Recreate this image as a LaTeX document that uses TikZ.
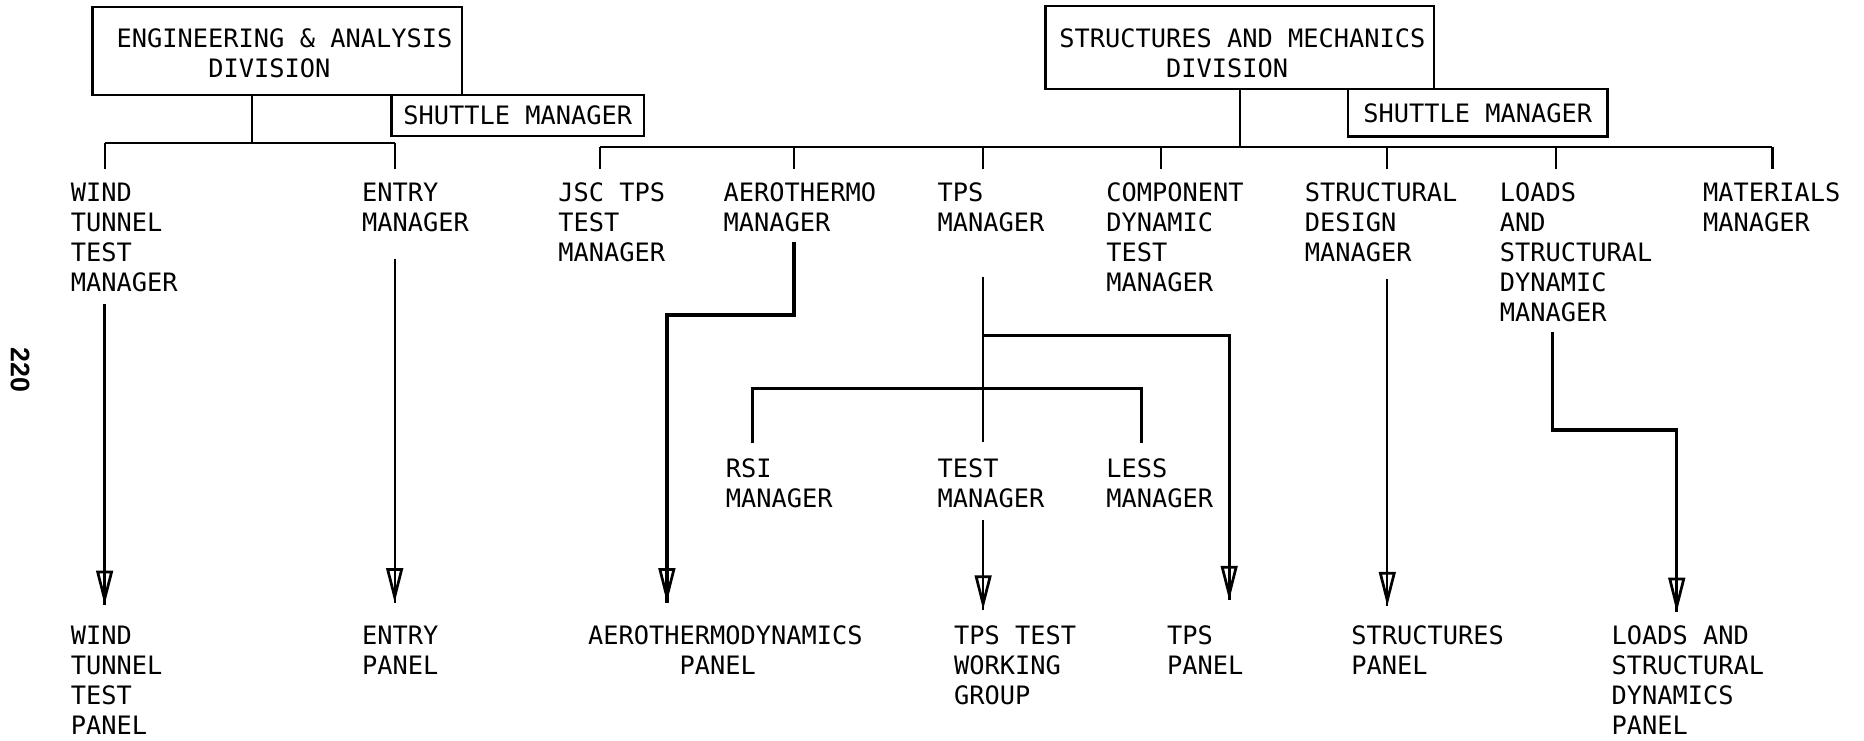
\documentclass[tikz,border=0pt]{standalone}
\usepackage{fontspec}
\newfontfamily\tw{DejaVu Sans Mono}
\newfontfamily\pn{Liberation Sans}
\usetikzlibrary{arrows.meta}
\begin{document}
\begin{tikzpicture}[x=0.01cm,y=-0.01cm,
  txt/.style={font=\tw\fontsize{6.06pt}{7.17pt}\selectfont},
  lbl/.style={txt, inner sep=0pt, anchor=north west, align=left},
  box/.style={draw, line width=0.6pt, inner sep=0pt},
  ln/.style={line width=0.5pt},
  mid/.style={line width=0.7pt},
  tk/.style={line width=0.5pt, shorten >=0.11cm},
  tip/.style={-{Triangle[open,length=0.29cm,width=0.14cm,line width=0.65pt]}},
  arr/.style={line width=0.55pt, tip, postaction={draw,-}},
  tarr/.style={line width=0.8pt, tip, postaction={draw,-}},
]
\useasboundingbox (0,0) rectangle (1568,623);

% division boxes
\node[box, minimum width=3.105cm, minimum height=0.74cm] (ea) at (233.25,43) {};
\node[lbl] (eat) at (97.5,23.5) {ENGINEERING \& ANALYSIS\\\phantom{XXXXXX}DIVISION};
\node[box, txt, minimum width=2.125cm, minimum height=0.344cm] (esm) at (435.5,97.2) {SHUTTLE MANAGER};
\node[box, minimum width=3.265cm, minimum height=0.70cm] (sm) at (1042.75,40) {};
\node[lbl] (smt) at (890.5,23.5) {STRUCTURES AND MECHANICS\\\phantom{XXXXXXX}DIVISION};
\node[box, txt, minimum width=2.18cm, minimum height=0.40cm] (ssm) at (1243,95) {SHUTTLE MANAGER};

% first row
\node[lbl] (wtm) at (59,153) {WIND\\TUNNEL\\TEST\\MANAGER};
\node[lbl] (em) at (304,153) {ENTRY\\MANAGER};
\node[lbl] (jsc) at (469,153) {JSC TPS\\TEST\\MANAGER};
\node[lbl] (aero) at (608,153) {AEROTHERMO\\MANAGER};
\node[lbl] (tps) at (788,153) {TPS\\MANAGER};
\node[lbl] (comp) at (930,153) {COMPONENT\\DYNAMIC\\TEST\\MANAGER};
\node[lbl] (sdm) at (1097,153) {STRUCTURAL\\DESIGN\\MANAGER};
\node[lbl] (lsd) at (1261,153) {LOADS\\AND\\STRUCTURAL\\DYNAMIC\\MANAGER};
\node[lbl] (mat) at (1432,153) {MATERIALS\\MANAGER};

% second row
\node[lbl] (rsi) at (610,385) {RSI\\MANAGER};
\node[lbl] (test) at (788,385) {TEST\\MANAGER};
\node[lbl] (less) at (930,385) {LESS\\MANAGER};

% panels
\node[lbl] (wtp) at (59,526) {WIND\\TUNNEL\\TEST\\PANEL};
\node[lbl] (ep) at (304,526) {ENTRY\\PANEL};
\node[lbl] (adp) at (494,526) {AEROTHERMODYNAMICS\\\phantom{XXXXXX}PANEL};
\node[lbl] (twg) at (802,526) {TPS TEST\\WORKING\\GROUP};
\node[lbl] (tpsp) at (981,526) {TPS\\PANEL};
\node[lbl] (sp) at (1136,526) {STRUCTURES\\PANEL};
\node[lbl] (lsdp) at (1355,526) {LOADS AND\\STRUCTURAL\\DYNAMICS\\PANEL};

% page number
\node[font=\pn\bfseries\fontsize{6.4pt}{7pt}\selectfont, rotate=-90, inner sep=0pt] (pg) at (17,311) {220};

% left tree
\coordinate (lj) at (212,120);
\coordinate (l1) at (88,120);
\coordinate (l2) at (332,120);
\draw[ln] (ea.south -| lj) -- (lj);
\draw[ln] (l1) -- (l2);
\draw[tk] (l1) -- (l1 |- wtm.north);
\draw[tk] (l2) -- (l2 |- em.north);

% right tree
\coordinate (rj) at (1043,123.5);
\coordinate (r1) at (505,123.5);
\coordinate (r2) at (668,123.5);
\coordinate (r3) at (827,123.5);
\coordinate (r4) at (977,123.5);
\coordinate (r5) at (1167,123.5);
\coordinate (r6) at (1309,123.5);
\coordinate (r7) at (1491,123.5);
\draw[ln] (sm.south -| rj) -- (rj);
\draw[ln] (r1) -- (r7);
\draw[tk] (r1) -- (r1 |- jsc.north);
\draw[tk] (r2) -- (r2 |- aero.north);
\draw[tk] (r3) -- (r3 |- tps.north);
\draw[tk] (r4) -- (r4 |- comp.north);
\draw[tk] (r5) -- (r5 |- sdm.north);
\draw[tk] (r6) -- (r6 |- lsd.north);
\draw[tk] (r7) -- (r7 |- mat.north);

% arrows to panels
\draw[arr, shorten <=0.10cm, shorten >=0.17cm] (wtm.south -| l1) -- (wtp.north -| l1);
\draw[arr, shorten <=0.22cm, shorten >=0.19cm] (em.south -| l2) -- (ep.north -| l2);

\coordinate (ab1) at (668,265);
\coordinate (ab2) at (561,265);
\draw[tarr, shorten <=0.08cm, shorten >=0.19cm] (aero.south -| ab1) -- (ab1) -- (ab2) -- (ab2 |- adp.north);

\draw[ln, shorten <=0.37cm, shorten >=0.13cm] (tps.south -| r3) -- (test.north -| r3);
\coordinate (tb1) at (827,282);
\coordinate (tb2) at (1034,282);
\draw[tarr, shorten >=0.21cm] (tb1) -- (tb2) -- (tb2 |- tpsp.north);

\coordinate (bk1) at (633,327);
\coordinate (bk2) at (960,327);
\draw[mid, shorten <=0.12cm, shorten >=0.12cm] (bk1 |- rsi.north) -- (bk1) -- (bk2) -- (bk2 |- less.north);

\draw[arr, shorten <=0.10cm, shorten >=0.13cm] (test.south -| r3) -- (twg.north -| r3);
\draw[arr, shorten <=0.136cm, shorten >=0.16cm] (sdm.south -| r5) -- (sp.north -| r5);

\coordinate (lb1) at (1306,361.7);
\coordinate (lb2) at (1410.5,361.7);
\draw[tarr, shorten <=0.08cm, shorten >=0.11cm] (lsd.south -| lb1) -- (lb1) -- (lb2) -- (lb2 |- lsdp.north);
\end{tikzpicture}
\end{document}
